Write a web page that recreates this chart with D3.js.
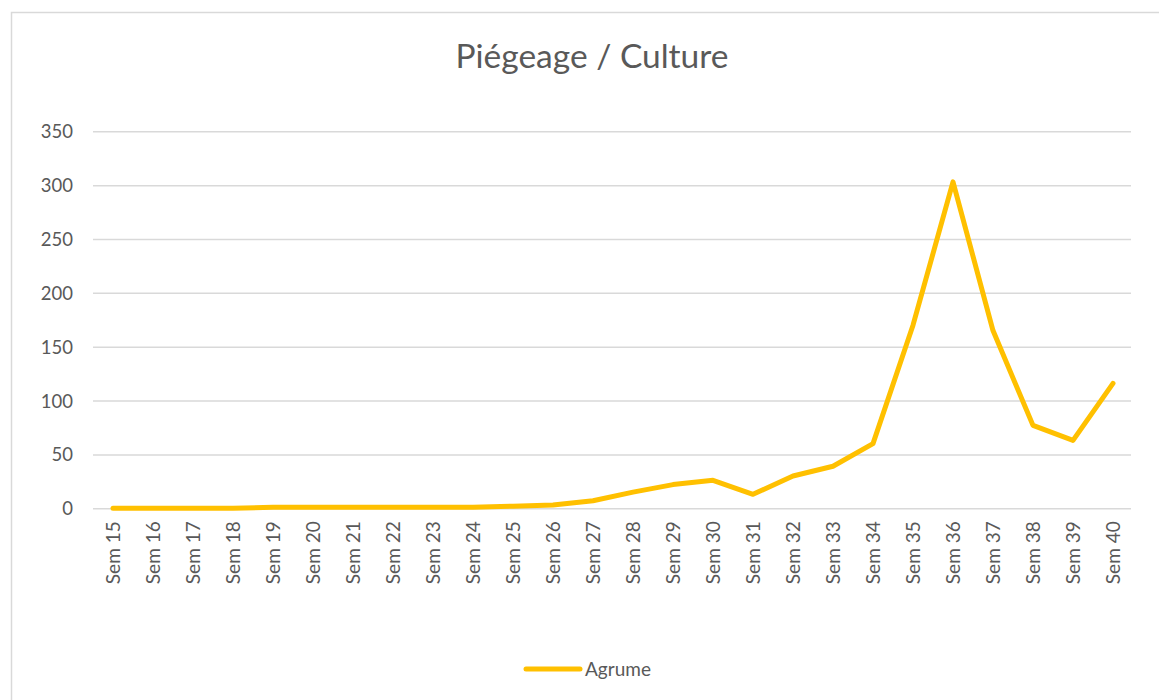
<!DOCTYPE html>
<html><head><meta charset="utf-8">
<script src="https://cdn.jsdelivr.net/npm/d3@7"></script>
<style>body{margin:0;background:#fff}svg{display:block}text{font-family:Lato,"Open Sans",sans-serif}</style>
</head><body>
<svg id="c" width="1159" height="700"></svg>
<script>
const categories = ["Sem 15","Sem 16","Sem 17","Sem 18","Sem 19","Sem 20","Sem 21","Sem 22","Sem 23","Sem 24","Sem 25","Sem 26","Sem 27","Sem 28","Sem 29","Sem 30","Sem 31","Sem 32","Sem 33","Sem 34","Sem 35","Sem 36","Sem 37","Sem 38","Sem 39","Sem 40"];
const agrume = [0,0,0,0,1,1,1,1,1,1,2,3,7,15,22,26,13,30,39,60,170,303,165,77,63,116];
const yTicks = [0,50,100,150,200,250,300,350];
const seriesName = "Agrume";
const title = "Piégeage / Culture";

const svg = d3.select("#c");
svg.append("rect").attr("x",11.5).attr("y",12.5).attr("width",1160).attr("height",700)
  .attr("fill","#fff").attr("stroke","#d9d9d9").attr("stroke-width",1.5);

const x = d3.scalePoint().domain(categories).range([93,1133]).padding(0.5);
const y = d3.scaleLinear().domain([0,350]).range([508.3,131.3]);

svg.append("text").attr("x",592).attr("y",68).attr("text-anchor","middle")
  .attr("font-size",33.5).attr("fill","#595959").text(title);

const yAxis = d3.axisLeft(y).tickValues(yTicks).tickSize(-(1131-93)).tickPadding(20);
const gy = svg.append("g").attr("transform","translate(93,0)").call(yAxis);
gy.select(".domain").remove();
gy.selectAll(".tick line").attr("stroke","#d9d9d9").attr("stroke-width",1.5);
gy.selectAll(".tick text").attr("font-size",18.5).attr("fill","#595959").attr("dy","0.35em")
  .style("font-family","Lato,'Open Sans',sans-serif");

const xAxis = d3.axisBottom(x).tickSize(0).tickPadding(0);
const gx = svg.append("g").attr("transform","translate(0,508.3)").call(xAxis);
gx.select(".domain").remove();
gx.selectAll(".tick text").attr("font-size",19).attr("fill","#595959")
  .attr("text-anchor","end").attr("transform","rotate(-90)")
  .attr("x",-13).attr("y",0).attr("dy","0.35em")
  .style("font-family","Lato,'Open Sans',sans-serif");

const line = d3.line().x((d,i)=>x(categories[i])).y(d=>y(d));
svg.append("path").datum(agrume).attr("d",line).attr("fill","none")
  .attr("stroke","#FFC000").attr("stroke-width",5).attr("stroke-linejoin","round").attr("stroke-linecap","round");

const lg = svg.append("g");
lg.append("line").attr("x1",526).attr("x2",580).attr("y1",669).attr("y2",669)
  .attr("stroke","#FFC000").attr("stroke-width",5).attr("stroke-linecap","round");
lg.append("text").attr("x",585).attr("y",669).attr("dy","0.35em").attr("font-size",19)
  .attr("fill","#595959").text(seriesName);
</script>
</body></html>
